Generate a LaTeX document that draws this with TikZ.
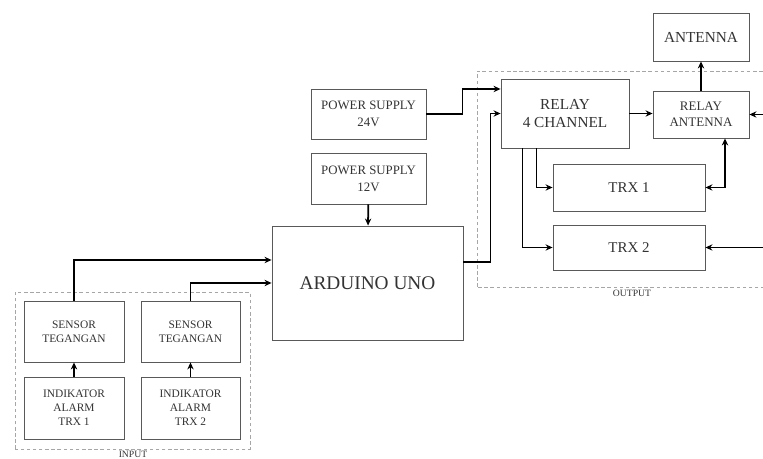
\documentclass[tikz,border=0pt]{standalone}
\usepackage{fontspec}
\setmainfont{Liberation Serif}
\usetikzlibrary{arrows.meta,positioning}

\begin{document}
\begin{tikzpicture}[
  blok/.style={rectangle, draw=black!65, line width=0.5pt,
    inner sep=1pt, align=center, text=black!80,
    font=\fontsize{7.3}{9.6}\selectfont},
  kecil/.style={blok, font=\fontsize{6.5}{8}\selectfont},
  frame/.style={draw=black!35, line width=0.5pt, dash pattern=on 2pt off 1.5pt},
  conn/.style={-{Stealth[length=4pt,width=3.6pt]}, line width=1pt, color=black},
  label/.style={font=\fontsize{5.5}{6}\selectfont, text=black!80, inner sep=0pt}
]
\clip (0,0) rectangle (15.26,9.18);

% kotak input dan output
\draw[frame] (0.30,0.20) rectangle (5.00,3.34);
\node[label, anchor=north] (lin) at (2.66,0.17) {INPUT};
\draw[frame] (9.54,3.44) rectangle (15.60,7.76);
\node[label, anchor=north] (lout) at (12.64,3.38) {OUTPUT};

\node[blok, minimum width=2.30cm, minimum height=1.00cm] (ps24) at (7.37,6.90) {POWER SUPPLY\\24V};
\node[blok, minimum width=2.30cm, minimum height=1.02cm] (ps12) at (7.37,5.61) {POWER SUPPLY\\12V};
\node[blok, minimum width=3.82cm, minimum height=2.28cm,
  font=\fontsize{11}{13}\selectfont] (uno) at (7.35,3.52) {ARDUINO UNO};

\node[kecil, minimum width=2.00cm, minimum height=1.22cm] (sen1) at (1.48,2.55) {SENSOR\\TEGANGAN};
\node[kecil, minimum width=1.98cm, minimum height=1.22cm] (sen2) at (3.81,2.55) {SENSOR\\TEGANGAN};
\node[kecil, minimum width=2.00cm, minimum height=1.24cm] (ind1) at (1.48,1.02) {INDIKATOR\\ALARM\\TRX 1};
\node[kecil, minimum width=1.98cm, minimum height=1.24cm] (ind2) at (3.81,1.02) {INDIKATOR\\ALARM\\TRX 2};

\node[blok, minimum width=2.56cm, minimum height=1.38cm,
  font=\fontsize{8.7}{10.7}\selectfont] (relay) at (11.30,6.91) {RELAY\\4 CHANNEL};
\node[blok, minimum width=1.92cm, minimum height=0.94cm,
  font=\fontsize{7.4}{9}\selectfont] (relant) at (14.02,6.89) {RELAY\\ANTENNA};
\node[blok, minimum width=1.92cm, minimum height=0.96cm,
  font=\fontsize{8.7}{10}\selectfont] (ant) at (14.02,8.44) {ANTENNA};
\node[blok, minimum width=3.04cm, minimum height=0.94cm,
  font=\fontsize{8.5}{10}\selectfont] (trx1) at (12.58,5.43) {TRX 1};
\node[blok, minimum width=3.04cm, minimum height=0.90cm,
  font=\fontsize{8.5}{10}\selectfont] (trx2) at (12.58,4.23) {TRX 2};

\coordinate (e1) at (15.30,6.89);
\coordinate (e2) at (15.30,4.23);

% sambungan
\foreach \a/\b in {ind1/sen1,ind2/sen2,ps12/uno,relant/ant}
  {\draw[conn] (\a) -- (\b);}
\draw[conn] (sen1.north) |- ([yshift=0.46cm]uno.west);
\draw[conn] (sen2.north) |- (uno.west);
\draw[conn] (ps24.east) -- ++(0.72,0) |- ([yshift=0.49cm]relay.west);
\draw[conn] ([yshift=0.42cm]uno.east) -- ++(0.54,0) |- (relay.west);
\draw[conn] (relay.east) -- (relay.east -| relant.west);
\draw[conn] ([xshift=0.72cm]relay.south west) |- (trx1.west);
\draw[conn] ([xshift=0.44cm]relay.south west) |- (trx2.west);
\draw[conn, {Stealth[length=4pt,width=3.6pt]}-{Stealth[length=4pt,width=3.6pt]}]
  (trx1.east) -| ([xshift=0.48cm]relant.south);
\draw[conn] (e1) -- (relant.east);
\draw[conn] (e2) -- (trx2.east);
\end{tikzpicture}
\end{document}
